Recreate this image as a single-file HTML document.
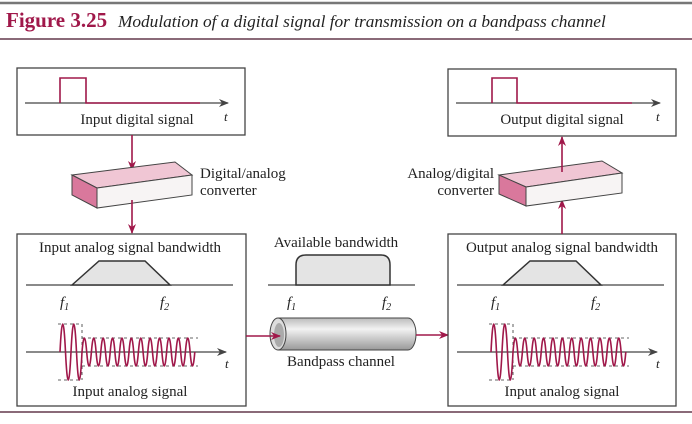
<!DOCTYPE html>
<html><head><meta charset="utf-8"><style>
html,body{margin:0;padding:0;background:#fff;}
svg{display:block;font-family:"Liberation Serif",serif;}
</style></head><body>
<svg width="692" height="424" viewBox="0 0 692 424" xmlns="http://www.w3.org/2000/svg">
<defs>
<marker id="ar" markerWidth="10" markerHeight="8" refX="9" refY="4" orient="auto" markerUnits="userSpaceOnUse"><path d="M0,0 L10,4 L0,8 L3,4z" fill="#a0184a"/></marker>
<marker id="ak" markerWidth="10" markerHeight="8" refX="9" refY="4" orient="auto" markerUnits="userSpaceOnUse"><path d="M0,0 L10,4 L0,8 L3,4z" fill="#444"/></marker>
<linearGradient id="cyl" x1="0" y1="0" x2="0" y2="1"><stop offset="0" stop-color="#bbb"/><stop offset="0.35" stop-color="#f2f2f2"/><stop offset="1" stop-color="#999"/></linearGradient>
<g id="wave">
<line x1="26" y1="352" x2="226" y2="352" stroke="#444" stroke-width="1.3" marker-end="url(#ak)"/>
<g stroke="#333" stroke-width="0.8" stroke-dasharray="3,3" fill="none">
<line x1="58" y1="324" x2="80" y2="324"/><line x1="58" y1="380" x2="80" y2="380"/>
<line x1="82" y1="324" x2="82" y2="380"/>
<line x1="82" y1="338" x2="198" y2="338"/><line x1="82" y1="366" x2="198" y2="366"/>
</g>
<path d="M60,352 q2.75,-56 5.5,0 t5.5,0 t5.5,0 t5.5,0 q2.35,-28 4.7,0 t4.7,0 t4.7,0 t4.7,0 t4.7,0 t4.7,0 t4.7,0 t4.7,0 t4.7,0 t4.7,0 t4.7,0 t4.7,0 t4.7,0 t4.7,0 t4.7,0 t4.7,0 t4.7,0 t4.7,0 t4.7,0 t4.7,0 t4.7,0 t4.7,0 t4.7,0 t4.7,0" fill="none" stroke="#a0184a" stroke-width="1.6"/>
<text x="225" y="368" font-style="italic" font-size="13" fill="#222">t</text>
</g>
<g id="trap">
<line x1="26" y1="285" x2="233" y2="285" stroke="#444" stroke-width="1.3"/>
<path d="M72,285 L99,261 L145,261 L170,285z" fill="#e4e4e4" stroke="#333" stroke-width="1.5"/>
<text x="60" y="307" font-style="italic" font-size="15" fill="#222">f<tspan font-size="10" dy="3">1</tspan></text>
<text x="160" y="307" font-style="italic" font-size="15" fill="#222">f<tspan font-size="10" dy="3">2</tspan></text>
</g>
</defs>

<line x1="0" y1="3" x2="692" y2="3" stroke="#777" stroke-width="2.5"/>
<text x="6" y="27" font-size="21" font-weight="bold" fill="#a0184a">Figure 3.25</text>
<text x="118" y="27" font-size="17.3" font-style="italic" fill="#222">Modulation of a digital signal for transmission on a bandpass channel</text>
<line x1="0" y1="39" x2="692" y2="39" stroke="#8a6a78" stroke-width="2"/>
<line x1="0" y1="412" x2="692" y2="412" stroke="#8a6a78" stroke-width="2"/>

<rect x="17" y="68" width="228" height="67" fill="none" stroke="#444" stroke-width="1.3"/>
<line x1="25" y1="103" x2="228" y2="103" stroke="#444" stroke-width="1.3" marker-end="url(#ak)"/>
<path d="M60,103 V78 H86 V103 H200" fill="none" stroke="#a0184a" stroke-width="1.6"/>
<text x="224" y="121" font-style="italic" font-size="13" fill="#222">t</text>
<text x="137" y="124" text-anchor="middle" font-size="15" fill="#222">Input digital signal</text>
<line x1="132" y1="135" x2="132" y2="170" stroke="#a0184a" stroke-width="1.6" marker-end="url(#ar)"/>
<path d="M72,175 L175,162 L192,175 L97,188z" fill="#f0c6d4" stroke="#444"/>
<path d="M97,188 L192,175 L192,195 L97,208z" fill="#f7f4f4" stroke="#444"/>
<path d="M72,175 L97,188 L97,208 L72,195z" fill="#d9789c" stroke="#444"/>
<line x1="132" y1="200" x2="132" y2="233" stroke="#a0184a" stroke-width="1.6" marker-end="url(#ar)"/>
<text x="200" y="178" font-size="15" fill="#222">Digital/analog</text>
<text x="200" y="195" font-size="15" fill="#222">converter</text>

<rect x="17" y="234" width="229" height="172" fill="none" stroke="#444" stroke-width="1.3"/>
<text x="130" y="252" text-anchor="middle" font-size="15" fill="#222">Input analog signal bandwidth</text>
<use href="#trap"/>
<use href="#wave"/>
<text x="130" y="396" text-anchor="middle" font-size="15" fill="#222">Input analog signal</text>

<text x="336" y="247" text-anchor="middle" font-size="15" fill="#222">Available bandwidth</text>
<line x1="268" y1="285" x2="415" y2="285" stroke="#444" stroke-width="1.3"/>
<path d="M296,285 V265 Q296,255 306,255 H381 Q390,255 390,265 V285z" fill="#e4e4e4" stroke="#333" stroke-width="1.5"/>
<text x="287" y="307" font-style="italic" font-size="15" fill="#222">f<tspan font-size="10" dy="3">1</tspan></text>
<text x="382" y="307" font-style="italic" font-size="15" fill="#222">f<tspan font-size="10" dy="3">2</tspan></text>
<path d="M278,318 H408 A8,16 0 0 1 408,350 H278z" fill="url(#cyl)" stroke="#444"/>
<ellipse cx="278" cy="334" rx="8" ry="16" fill="#ddd" stroke="#444"/>
<ellipse cx="279" cy="335" rx="5" ry="12" fill="#aaa"/>
<line x1="246" y1="336" x2="280" y2="336" stroke="#a0184a" stroke-width="1.6" marker-end="url(#ar)"/>
<line x1="416" y1="335" x2="448" y2="335" stroke="#a0184a" stroke-width="1.6" marker-end="url(#ar)"/>
<text x="341" y="366" text-anchor="middle" font-size="15" fill="#222">Bandpass channel</text>

<rect x="448" y="234" width="228" height="172" fill="none" stroke="#444" stroke-width="1.3"/>
<text x="562" y="252" text-anchor="middle" font-size="15" fill="#222">Output analog signal bandwidth</text>
<g transform="translate(431,0)"><use href="#trap"/><use href="#wave"/></g>
<text x="562" y="396" text-anchor="middle" font-size="15" fill="#222">Input analog signal</text>

<rect x="448" y="69" width="228" height="67" fill="none" stroke="#444" stroke-width="1.3"/>
<line x1="456" y1="103" x2="660" y2="103" stroke="#444" stroke-width="1.3" marker-end="url(#ak)"/>
<path d="M492,103 V78 H517 V103 H632" fill="none" stroke="#a0184a" stroke-width="1.6"/>
<text x="656" y="121" font-style="italic" font-size="13" fill="#222">t</text>
<text x="562" y="124" text-anchor="middle" font-size="15" fill="#222">Output digital signal</text>
<line x1="562" y1="234" x2="562" y2="200" stroke="#a0184a" stroke-width="1.6" marker-end="url(#ar)"/>
<path d="M499,175 L602,161 L622,173 L526,187z" fill="#f0c6d4" stroke="#444"/>
<path d="M526,187 L622,173 L622,193 L526,206z" fill="#f7f4f4" stroke="#444"/>
<path d="M499,175 L526,187 L526,206 L499,194z" fill="#d9789c" stroke="#444"/>
<line x1="562" y1="172" x2="562" y2="137" stroke="#a0184a" stroke-width="1.6" marker-end="url(#ar)"/>
<text x="494" y="178" text-anchor="end" font-size="15" fill="#222">Analog/digital</text>
<text x="494" y="195" text-anchor="end" font-size="15" fill="#222">converter</text>
</svg>
</body></html>
